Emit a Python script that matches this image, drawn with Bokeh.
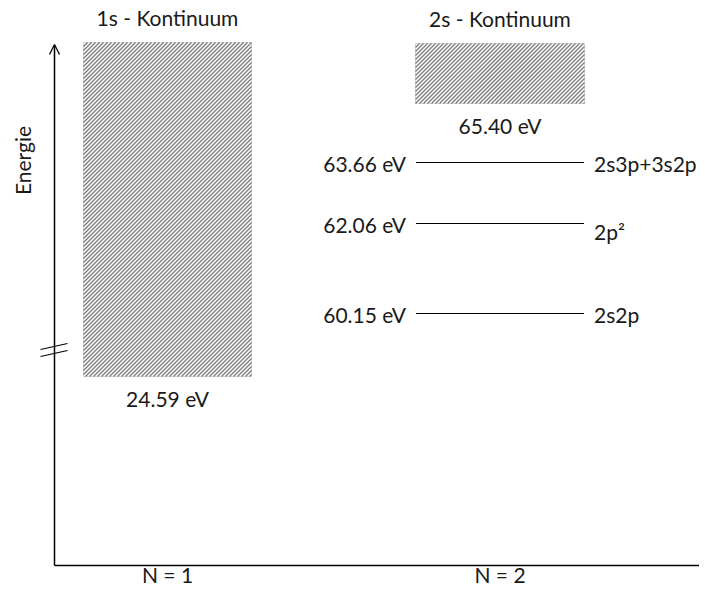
import numpy as np
from bokeh.plotting import figure
from bokeh.models import ColumnDataSource, Range1d, Arrow, OpenHead
from bokeh.core.properties import value
from bokeh.embed import file_html
from bokeh.resources import INLINE

# ---------------- data (schematic diagram units) ----------------
column_labels = ["N = 1", "N = 2"]
column_x = [167, 499.5]

continuum_names = ["1s - Kontinuum", "2s - Kontinuum"]
continuum_onset = ["24.59 eV", "65.40 eV"]
continuum_x = [167, 499.5]
continuum_bottom = [219, 492]
continuum_top = [553, 552]

level_energy = ["60.15 eV", "62.06 eV", "63.66 eV"]
level_y = [282, 372, 433]
level_config = ["2s2p", "2p\u00b2", "2s3p+3s2p"]

axis_origin = (54, 30)
axis_end_x = 715
axis_end_y = 551
axis_break_y = 246

# ---------------- style ----------------
FONT = "Lato"
FS = "21px"
TXT = "#1a1a1a"
box_w = [168, 169]
line_half = 84
label_gap = 10
cfg_dy = [-1, -8, -1]
hatch_step = 4.0

p = figure(width=699, height=587, x_range=Range1d(0, 699), y_range=Range1d(8, 595),
           x_axis_type=None, y_axis_type=None, output_backend="svg",
           toolbar_location=None, min_border=0)
p.grid.visible = False
p.outline_line_color = None
p.background_fill_color = "white"

# continua boxes
lefts = [c - w / 2 for c, w in zip(continuum_x, box_w)]
rights = [c + w / 2 for c, w in zip(continuum_x, box_w)]
cs = ColumnDataSource(dict(
    left=lefts, right=rights,
    bottom=continuum_bottom, top=continuum_top,
    x=continuum_x,
    name=continuum_names, onset=continuum_onset,
    ty=[t + 25 for t in continuum_top],
    oy=[b - 22 for b in continuum_bottom],
))
p.quad(left="left", right="right", bottom="bottom", top="top", source=cs,
       fill_color="white", line_color="#d4d4d4", line_width=1)

# diagonal hatching (45 deg) clipped to each box
hx0, hy0, hx1, hy1 = [], [], [], []
for L, R, B, T in zip(lefts, rights, continuum_bottom, continuum_top):
    for c in np.arange(L - T, R - B, hatch_step):
        ya = max(B, L - c)
        yb = min(T, R - c)
        if yb > ya:
            hx0.append(ya + c); hy0.append(ya)
            hx1.append(yb + c); hy1.append(yb)
p.segment(x0=hx0, y0=hy0, x1=hx1, y1=hy1, line_color="#7a7a7a", line_width=1.3)

p.text(x="x", y="ty", text="name", source=cs, text_font=value(FONT),
       text_font_size=FS, text_align="center", text_baseline="middle", text_color=TXT)
p.text(x="x", y="oy", text="onset", source=cs, text_font=value(FONT),
       text_font_size=FS, text_align="center", text_baseline="middle", text_color=TXT)

# discrete levels
lx = column_x[1]
ls = ColumnDataSource(dict(
    x0=[lx - line_half] * 3, x1=[lx + line_half] * 3, y=level_y,
    ex=[lx - line_half - label_gap] * 3, cx=[lx + line_half + label_gap] * 3,
    ey=[y - 1 for y in level_y], cy=[y + d for y, d in zip(level_y, cfg_dy)],
    energy=level_energy, config=level_config,
))
p.segment(x0="x0", y0="y", x1="x1", y1="y", source=ls, line_color="black", line_width=1)
p.text(x="ex", y="ey", text="energy", source=ls, text_font=value(FONT),
       text_font_size=FS, text_align="right", text_baseline="middle", text_color=TXT)
p.text(x="cx", y="cy", text="config", source=ls, text_font=value(FONT),
       text_font_size=FS, text_align="left", text_baseline="middle", text_color=TXT)

# axes
ox, oy = axis_origin
p.segment(x0=[ox], y0=[oy], x1=[axis_end_x], y1=[oy], line_color="black", line_width=1.5)
p.add_layout(Arrow(end=OpenHead(size=10, line_width=1.3, line_color="black"),
                   x_start=ox, y_start=oy, x_end=ox, y_end=axis_end_y,
                   line_color="black", line_width=1.5))
# axis break
b = axis_break_y
p.patch(x=[ox - 14, ox + 13, ox + 13, ox - 14], y=[b, b + 6, b - 1, b - 7],
        fill_color="white", line_color=None)
p.segment(x0=[ox - 14, ox - 14], y0=[b, b - 7], x1=[ox + 13, ox + 13], y1=[b + 6, b - 1],
          line_color="black", line_width=1.2)

p.text(x=[22], y=[435], text=["Energie"], angle=np.pi / 2, text_font=value(FONT),
       text_font_size=FS, text_align="center", text_baseline="middle", text_color=TXT)

# column labels
p.text(x=column_x, y=[21, 21], text=column_labels, text_font=value(FONT),
       text_font_size=FS, text_align="center", text_baseline="middle", text_color=TXT)

open("out.html", "w").write(file_html(p, INLINE))
